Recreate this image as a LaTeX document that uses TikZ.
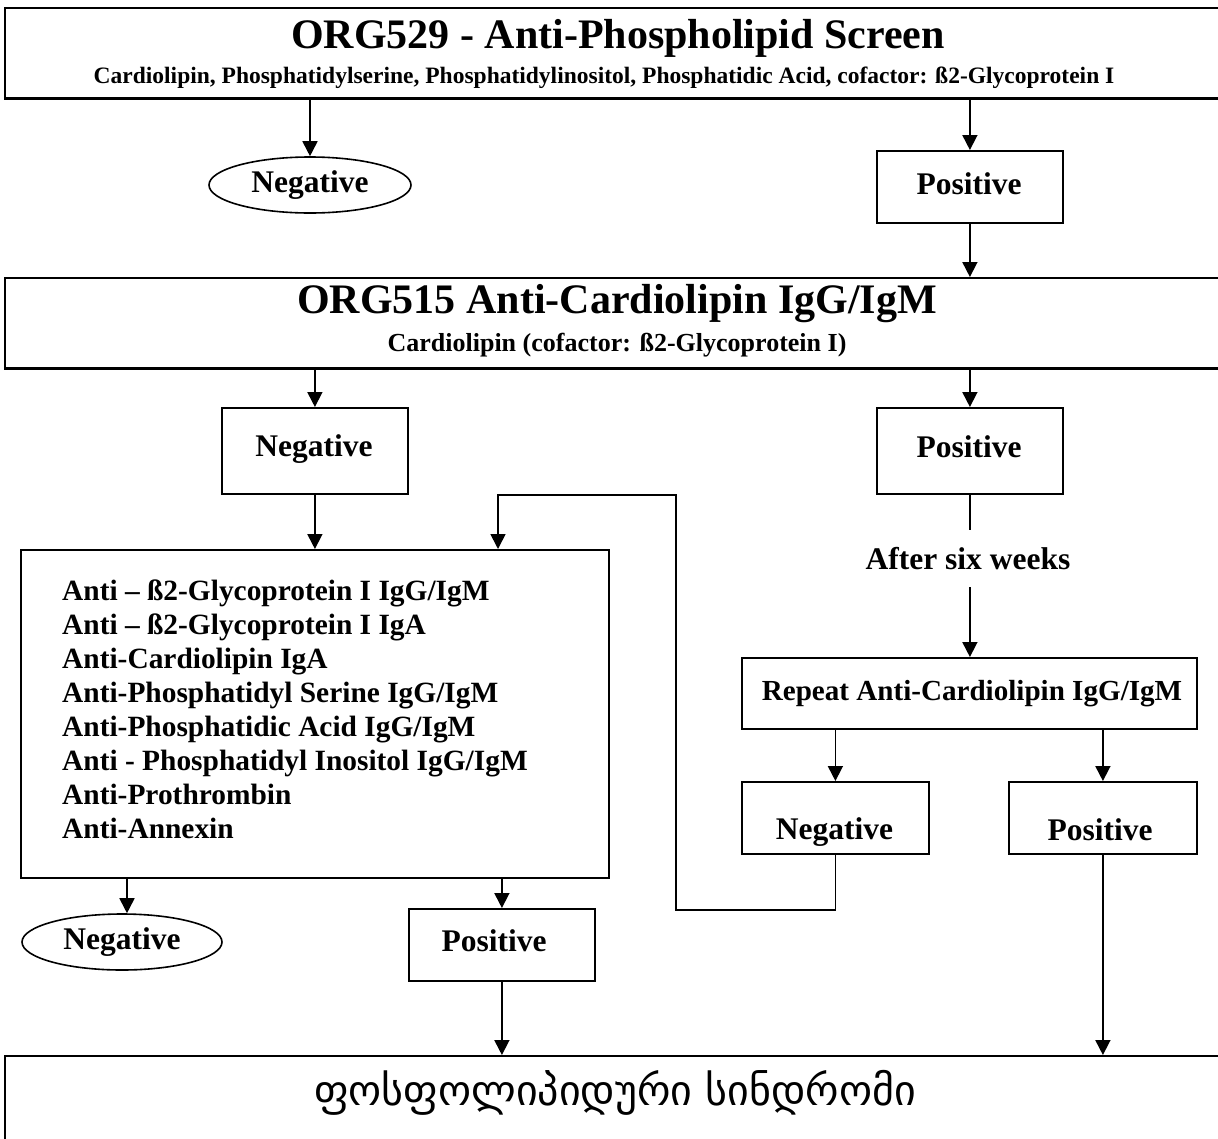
\documentclass[tikz,border=0pt]{standalone}
\usepackage{fontspec}
\setmainfont{Liberation Serif}
\newfontfamily\geo{DejaVu Sans}
\usetikzlibrary{arrows.meta,shapes.geometric}
\tikzset{
  arr/.style={line width=1.7pt,-{Triangle[width=15pt,length=15pt]}},
  ln/.style={line width=1.7pt},
  box/.style={draw,line width=1.8pt,rectangle,inner sep=0pt,anchor=north west},
  oval/.style={draw,line width=1.6pt,ellipse,inner sep=0pt,minimum width=202pt,minimum height=56pt,font=\bfseries\fontsize{31.5}{36}\selectfont},
  lbl/.style={inner sep=0pt,font=\bfseries\fontsize{31.5}{36}\selectfont},
  ttl/.style={inner sep=0pt,font=\bfseries\fontsize{42}{48}\selectfont},
  shadowline/.style={line width=3pt},
}
\begin{document}
\begin{tikzpicture}[x=1pt,y=-1pt]
\useasboundingbox[fill=white] (0,0) rectangle (1218,1138);
% top box
\node[box,minimum width=1226pt,minimum height=90pt] (top) at (4,7) {};
\draw[shadowline] (top.south west) -- (top.south east);
\node[ttl] (t1) at (618,38) {ORG529 - Anti-Phospholipid Screen};
\node[inner sep=0pt,font=\bfseries\fontsize{23.5}{28}\selectfont] (s1) at (604,78) {Cardiolipin, Phosphatidylserine, Phosphatidylinositol, Phosphatidic Acid, cofactor: ß2-Glycoprotein I};
\node[oval] (neg1) at (310,185) {Negative};
\node[box,minimum width=186pt,minimum height=72pt] (pos1) at (876,150) {};
\node[lbl] (pos1t) at (969,184) {Positive};
\draw[arr] (top.south -| neg1.north) -- (neg1.north);
\draw[arr] (top.south -| pos1.north) -- (pos1.north);
% second box
\node[box,minimum width=1226pt,minimum height=90pt] (org) at (4,277) {};
\draw[shadowline] (org.south west) -- (org.south east);
\node[ttl] (t2) at (617,304) {ORG515 Anti-Cardiolipin IgG/IgM};
\node[inner sep=0pt,font=\bfseries\fontsize{26}{30}\selectfont] (s2) at (617,345) {Cardiolipin (cofactor: ß2-Glycoprotein I)};
\draw[arr] (pos1.south) -- (pos1.south |- org.north);
\node[box,minimum width=186pt,minimum height=86pt] (neg2) at (221,407) {};
\node[lbl] (neg2t) at (314,449) {Negative};
\node[box,minimum width=186pt,minimum height=86pt] (pos2) at (876,407) {};
\node[lbl] (pos2t) at (969,447) {Positive};
\draw[arr] (org.south -| neg2.north) -- (neg2.north);
\draw[arr] (org.south -| pos2.north) -- (pos2.north);
% big list box
\node[box,minimum width=588pt,minimum height=328pt] (big) at (20,549) {};
\node[inner sep=0pt,anchor=north west,align=left,font=\bfseries\fontsize{29.4}{34}\selectfont] (list) at (62,580) {Anti – ß2-Glycoprotein I IgG/IgM\\Anti – ß2-Glycoprotein I IgA\\Anti-Cardiolipin IgA\\Anti-Phosphatidyl Serine IgG/IgM\\Anti-Phosphatidic Acid IgG/IgM\\Anti - Phosphatidyl Inositol IgG/IgM\\Anti-Prothrombin\\Anti-Annexin};
\draw[arr] (neg2.south) -- (neg2.south |- big.north);
% after six weeks
\node[lbl,minimum height=57pt] (wait) at (968,558.5) {After six weeks};
\draw[ln] (pos2.south) -- (pos2.south |- wait.north);
\node[box,minimum width=455pt,minimum height=71pt] (rep) at (741,657) {};
\node[inner sep=0pt,font=\bfseries\fontsize{29.1}{34}\selectfont] (rept) at (972,694) {Repeat Anti-Cardiolipin IgG/IgM};
\draw[arr] (pos2.south |- wait.south) -- (pos2.south |- rep.north);
\node[box,minimum width=187pt,minimum height=72pt] (neg4) at (741,781) {};
\node[lbl] (neg4t) at (834.5,832) {Negative};
\node[box,minimum width=188pt,minimum height=72pt] (pos4) at (1008,781) {};
\node[lbl] (pos4t) at (1100,830) {Positive};
\draw[arr] (rep.south -| neg4.north) -- (neg4.north);
\draw[arr] (rep.south -| pos4.north) -- (pos4.north);
% loop back
\coordinate (lp1) at (676,910);
\coordinate (lp3) at (498,495);
\draw[arr,line join=miter] (neg4.south) |- (lp1) |- (lp3) -- (lp3 |- big.north);
% outcomes of list
\node[oval,minimum width=200pt] (neg3) at (122,942) {Negative};
\node[box,minimum width=186pt,minimum height=72pt] (pos3) at (408,908) {};
\node[lbl] (pos3t) at (494,941) {Positive};
\draw[arr] (big.south -| 127,0) -- (127,0 |- neg3.north);
\draw[arr] (big.south -| pos3.north) -- (pos3.north);
% final box
\node[box,minimum width=1226pt,minimum height=110pt] (fin) at (4,1055) {};
\node[inner sep=0pt,font=\geo\fontsize{42}{48}\selectfont] (fint) at (615,1093) {ფოსფოლიპიდური სინდრომი};
\draw[arr] (pos3.south) -- (pos3.south |- fin.north);
\draw[arr] (pos4.south) -- (pos4.south |- fin.north);
\end{tikzpicture}
\end{document}
